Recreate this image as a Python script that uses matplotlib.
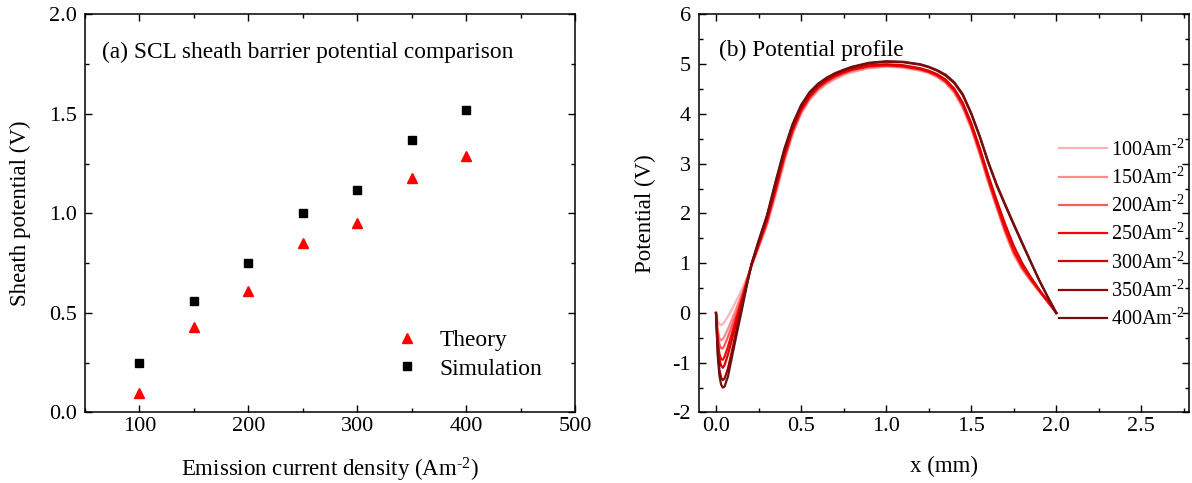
import matplotlib
matplotlib.use("Agg")
import matplotlib.pyplot as plt
from matplotlib.ticker import MultipleLocator, FormatStrFormatter

plt.rcParams['font.family'] = ['Liberation Serif', 'DejaVu Serif']
plt.rcParams['mathtext.fontset'] = 'custom'
plt.rcParams['mathtext.rm'] = 'Liberation Serif'
plt.rcParams['mathtext.it'] = 'Liberation Serif:italic'
plt.rcParams['axes.unicode_minus'] = False
plt.rcParams['font.size'] = 15

# (a) sheath barrier potential vs emission current density
current = [100, 150, 200, 250, 300, 350, 400]
theory = [0.10, 0.43, 0.61, 0.85, 0.95, 1.18, 1.29]
simulation = [0.25, 0.56, 0.75, 1.00, 1.12, 1.37, 1.52]

# (b) potential profiles across the gap, one per current density
x_mm = [0.00, 0.01, 0.02, 0.03, 0.04, 0.05, 0.07, 0.09, 0.12, 0.15,
        0.18, 0.21, 0.25, 0.30, 0.35, 0.40, 0.45, 0.50, 0.55, 0.60,
        0.65, 0.70, 0.75, 0.80, 0.90, 1.00, 1.10, 1.20, 1.25, 1.30,
        1.35, 1.40, 1.45, 1.50, 1.55, 1.60, 1.65, 1.70, 1.75, 1.80,
        1.85, 1.90, 1.95, 2.00]
phi_100 = [0, -0.16, -0.23, -0.24, -0.22, -0.18, -0.07, 0.05, 0.25, 0.46,
           0.69, 0.95, 1.30, 1.76, 2.36, 3.02, 3.58, 4.00, 4.28, 4.47,
           4.60, 4.70, 4.78, 4.84, 4.92, 4.95, 4.93, 4.87, 4.82, 4.74,
           4.62, 4.42, 4.12, 3.70, 3.18, 2.62, 2.10, 1.60, 1.17, 0.87,
           0.64, 0.43, 0.22, 0]
phi_150 = [0, -0.33, -0.50, -0.55, -0.53, -0.47, -0.32, -0.16, 0.10, 0.37,
           0.66, 0.96, 1.32, 1.79, 2.40, 3.05, 3.61, 4.02, 4.30, 4.49,
           4.62, 4.72, 4.80, 4.86, 4.93, 4.96, 4.94, 4.88, 4.83, 4.75,
           4.63, 4.44, 4.14, 3.72, 3.20, 2.64, 2.12, 1.62, 1.19, 0.88,
           0.65, 0.43, 0.22, 0]
phi_200 = [0, -0.42, -0.63, -0.71, -0.71, -0.65, -0.48, -0.29, 0.00, 0.31,
           0.64, 0.97, 1.34, 1.82, 2.43, 3.08, 3.64, 4.04, 4.32, 4.51,
           4.64, 4.74, 4.82, 4.88, 4.95, 4.97, 4.95, 4.89, 4.84, 4.76,
           4.64, 4.46, 4.16, 3.74, 3.22, 2.66, 2.14, 1.64, 1.21, 0.90,
           0.66, 0.44, 0.22, 0]
phi_250 = [0, -0.55, -0.82, -0.93, -0.94, -0.88, -0.68, -0.45, -0.10, 0.26,
           0.62, 0.98, 1.36, 1.85, 2.47, 3.12, 3.67, 4.07, 4.34, 4.53,
           4.66, 4.76, 4.83, 4.89, 4.96, 4.98, 4.96, 4.90, 4.85, 4.78,
           4.66, 4.48, 4.19, 3.77, 3.26, 2.70, 2.18, 1.68, 1.25, 0.93,
           0.68, 0.45, 0.23, 0]
phi_300 = [0, -0.63, -0.93, -1.06, -1.10, -1.05, -0.84, -0.58, -0.20, 0.20,
           0.59, 0.99, 1.39, 1.89, 2.52, 3.17, 3.71, 4.10, 4.37, 4.55,
           4.68, 4.78, 4.85, 4.91, 4.98, 5.00, 4.98, 4.92, 4.87, 4.80,
           4.69, 4.51, 4.23, 3.82, 3.32, 2.77, 2.26, 1.78, 1.35, 1.00,
           0.72, 0.47, 0.24, 0]
phi_350 = [0, -0.77, -1.14, -1.30, -1.35, -1.32, -1.12, -0.82, -0.35, 0.10,
           0.56, 1.00, 1.43, 1.95, 2.61, 3.25, 3.77, 4.16, 4.42, 4.59,
           4.71, 4.81, 4.88, 4.94, 5.02, 5.05, 5.04, 4.99, 4.94, 4.87,
           4.77, 4.62, 4.38, 4.00, 3.54, 3.02, 2.56, 2.16, 1.77, 1.39,
           1.02, 0.65, 0.32, 0]
phi_400 = [0, -0.85, -1.26, -1.44, -1.50, -1.48, -1.28, -0.95, -0.45, 0.03,
           0.53, 1.00, 1.45, 1.97, 2.64, 3.28, 3.80, 4.18, 4.44, 4.61,
           4.73, 4.82, 4.89, 4.95, 5.03, 5.06, 5.05, 5.00, 4.95, 4.88,
           4.79, 4.64, 4.40, 4.02, 3.56, 3.04, 2.58, 2.18, 1.79, 1.41,
           1.03, 0.66, 0.32, 0]
profiles = [phi_100, phi_150, phi_200, phi_250, phi_300, phi_350, phi_400]
profile_labels = [r'100Am$^{\text{-2}}$', r'150Am$^{\text{-2}}$', r'200Am$^{\text{-2}}$',
                  r'250Am$^{\text{-2}}$', r'300Am$^{\text{-2}}$', r'350Am$^{\text{-2}}$',
                  r'400Am$^{\text{-2}}$']
profile_colors = ['#ffb3ba', '#ff8a8f', '#ff5a5a', '#ff0000', '#d80000', '#9a0000', '#6e1010']

fig = plt.figure(figsize=(11.92, 4.83), dpi=100)
ax1 = fig.add_axes([0.0713, 0.146, 0.4111, 0.824])
ax2 = fig.add_axes([0.5864, 0.146, 0.4111, 0.824])


def style_axes(ax):
    ax.tick_params(which='both', direction='in', top=True, right=True, labelsize=16)
    ax.tick_params(which='major', length=5, width=1)
    ax.tick_params(which='minor', length=3, width=1)
    ax.tick_params(axis='y', pad=6)
    for s in ax.spines.values():
        s.set_linewidth(1.1)


# left panel
ax1.plot(current, theory, '^', color='red', ms=7, mec='red', label='Theory')
ax1.plot(current, simulation, 's', color='black', ms=6, label='Simulation')
ax1.set_xlim(50, 500)
ax1.set_ylim(0, 2.0)
ax1.xaxis.set_major_locator(MultipleLocator(100))
ax1.xaxis.set_minor_locator(MultipleLocator(50))
ax1.yaxis.set_major_locator(MultipleLocator(0.5))
ax1.yaxis.set_minor_locator(MultipleLocator(0.25))
ax1.yaxis.set_major_formatter(FormatStrFormatter('%.1f'))
ax1.set_xlabel(r'Emission current density (Am$^{\text{-2}}$)', fontsize=16.5)
ax1.set_ylabel('Sheath potential (V)', fontsize=16.5)
ax1.xaxis.set_label_coords(0.5, -0.11)
ax1.yaxis.set_label_coords(-0.11, 0.5)
ax1.text(0.034, 0.905, '(a) SCL sheath barrier potential comparison', transform=ax1.transAxes,
         fontsize=16.8, va='center')
ax1.legend(loc='center left', bbox_to_anchor=(0.59, 0.145), frameon=False, fontsize=16.8,
           handlelength=1.0, handletextpad=0.9, labelspacing=0.3)
style_axes(ax1)

# right panel
for phi, lab, col in zip(profiles, profile_labels, profile_colors):
    ax2.plot(x_mm, phi, color=col, lw=1.6, label=lab)
ax2.set_xlim(-0.1, 2.78)
ax2.set_ylim(-2, 6)
ax2.xaxis.set_major_locator(MultipleLocator(0.5))
ax2.xaxis.set_minor_locator(MultipleLocator(0.25))
ax2.yaxis.set_major_locator(MultipleLocator(1))
ax2.yaxis.set_minor_locator(MultipleLocator(0.5))
ax2.xaxis.set_major_formatter(FormatStrFormatter('%.1f'))
ax2.set_xlabel('x (mm)', fontsize=16.5)
ax2.set_ylabel('Potential (V)', fontsize=16.5)
ax2.xaxis.set_label_coords(0.5, -0.11)
ax2.yaxis.set_label_coords(-0.087, 0.5)
ax2.text(0.04, 0.91, '(b) Potential profile', transform=ax2.transAxes, fontsize=16.8, va='center')
ax2.legend(loc='center left', bbox_to_anchor=(0.698, 0.447), frameon=False, fontsize=14.5,
           handlelength=2.4, handletextpad=0.15, labelspacing=0.35)
style_axes(ax2)

fig.savefig('out.png', dpi=100)
